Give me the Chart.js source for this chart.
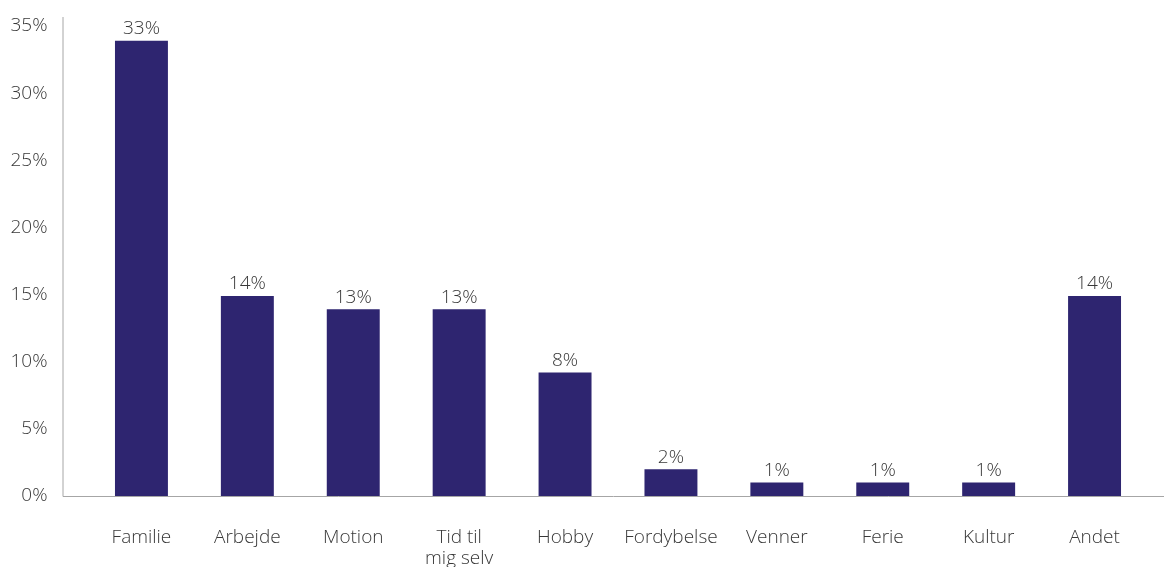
<!DOCTYPE html>
<html>
<head>
<meta charset="utf-8">
<script src="https://cdn.jsdelivr.net/npm/chart.js@4"></script>
<style>
  html, body { margin: 0; padding: 0; background: #fff; }
  #wrap { width: 1164px; height: 567px; }
</style>
</head>
<body>
<div id="wrap"><canvas id="myChart"></canvas></div>
<script>
const categories = ['Familie', 'Arbejde', 'Motion', ['Tid til', 'mig selv'], 'Hobby', 'Fordybelse', 'Venner', 'Ferie', 'Kultur', 'Andet'];
const values = [33.9, 14.9, 13.9, 13.9, 9.2, 2.0, 1.0, 1.0, 1.0, 14.9];
const valueLabels = ['33%', '14%', '13%', '13%', '8%', '2%', '1%', '1%', '1%', '14%'];
const yTicks = [0, 5, 10, 15, 20, 25, 30, 35];

const textColor = '#383838';
const lineColor = '#a6a6a6';
const font = { family: "'Open Sans', sans-serif", size: 19, weight: 300, lineHeight: 1.1 };

// axis lines drawn a bit outside the plot area, like the original
const axisLines = {
  id: 'axisLines',
  afterDraw(chart) {
    const ctx = chart.ctx;
    const area = chart.chartArea;
    const x0 = area.left - 25.5;
    ctx.save();
    ctx.strokeStyle = lineColor;
    ctx.lineWidth = 1;
    ctx.beginPath();
    ctx.moveTo(x0, area.top - 9);
    ctx.lineTo(x0, area.bottom + 0.5);
    ctx.lineTo(chart.width, area.bottom + 0.5);
    ctx.stroke();
    ctx.restore();
  }
};

const barLabels = {
  id: 'barLabels',
  afterDatasetsDraw(chart) {
    const ctx = chart.ctx;
    const meta = chart.getDatasetMeta(0);
    ctx.save();
    ctx.fillStyle = textColor;
    ctx.font = `${font.weight} ${font.size}px ${font.family}`;
    ctx.textAlign = 'center';
    ctx.textBaseline = 'middle';
    meta.data.forEach((bar, i) => {
      ctx.fillText(valueLabels[i], bar.x, bar.y - 12);
    });
    ctx.restore();
  }
};

const ctx = document.getElementById('myChart');
new Chart(ctx, {
  type: 'bar',
  data: {
    labels: categories,
    datasets: [{
      data: values,
      backgroundColor: '#2e2570',
      categoryPercentage: 1,
      barPercentage: 0.5,
    }],
  },
  options: {
    responsive: true,
    maintainAspectRatio: false,
    animation: false,
    layout: { padding: { top: 26, right: 16.5, left: 0, bottom: 0 } },
    plugins: { legend: { display: false }, tooltip: { enabled: false } },
    scales: {
      x: {
        grid: { display: false, drawTicks: false },
        border: { display: false },
        ticks: { color: textColor, font: font, padding: 31, maxRotation: 0, autoSkip: false },
        afterFit(scale) { scale.height = 71; },
      },
      y: {
        min: 0,
        max: 35,
        grid: { display: false, drawTicks: false },
        border: { display: false },
        afterBuildTicks(scale) { scale.ticks = yTicks.map((v) => ({ value: v })); },
        ticks: { color: textColor, font: font, padding: 41, callback: (v) => v + '%' },
        afterFit(scale) {
          scale.width = 88.5;
          scale.paddingTop = 0;
          scale.paddingBottom = 0;
        },
      },
    },
  },
  plugins: [axisLines, barLabels],
});
</script>
</body>
</html>
